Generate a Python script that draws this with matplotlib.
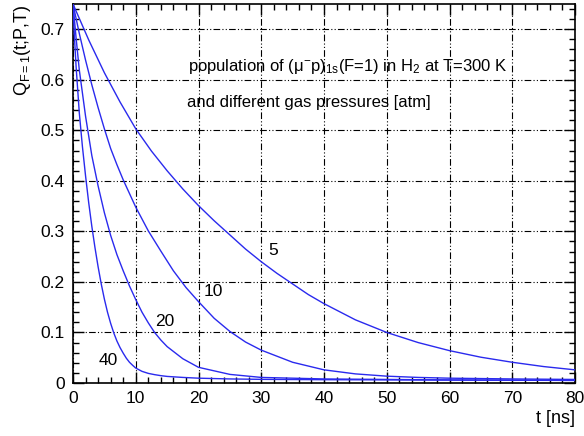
import matplotlib.pyplot as plt
import numpy as np
from matplotlib.ticker import MultipleLocator

plt.rcParams['font.family'] = ['Liberation Sans', 'DejaVu Sans']
plt.rcParams['mathtext.fontset'] = 'custom'
plt.rcParams['mathtext.rm'] = 'Liberation Sans'
plt.rcParams['mathtext.it'] = 'Liberation Sans'
plt.rcParams['mathtext.default'] = 'regular'

# population Q(t) for each gas pressure [atm], t in ns
t_p5 = [0, 2.5, 5, 7.5, 10, 12.5, 15, 17.5, 20, 22.5, 25, 27.5, 30, 32.5, 35,
        37.5, 40, 45, 50, 55, 60, 65, 70, 75, 80]
q_p5 = [0.75, 0.679, 0.614, 0.556, 0.503, 0.459, 0.420, 0.384, 0.351, 0.321,
        0.293, 0.265, 0.240, 0.217, 0.196, 0.175, 0.157, 0.125, 0.100, 0.080,
        0.064, 0.051, 0.041, 0.0325, 0.026]

t_p10 = [0, 1, 2, 3, 4, 5, 6, 7, 8, 10, 12, 14, 16, 18, 20, 22.5, 25, 27.5,
         30, 35, 40, 45, 50, 55, 60, 70, 80]
q_p10 = [0.75, 0.692, 0.639, 0.590, 0.545, 0.503, 0.464, 0.432, 0.402, 0.348,
         0.301, 0.261, 0.222, 0.189, 0.161, 0.128, 0.102, 0.081, 0.065, 0.041,
         0.026, 0.018, 0.0135, 0.011, 0.0095, 0.008, 0.007]

t_p20 = [0, 0.5, 1, 2, 3, 4, 5, 6, 7, 8, 9, 10, 11, 12, 13, 14, 15, 17.5, 20,
         25, 30, 40, 60, 80]
q_p20 = [0.75, 0.682, 0.620, 0.528, 0.450, 0.390, 0.337, 0.292, 0.254, 0.222,
         0.192, 0.165, 0.140, 0.119, 0.100, 0.085, 0.072, 0.048, 0.031, 0.017,
         0.011, 0.008, 0.006, 0.005]

t_p40 = [0, 0.25, 0.5, 1, 1.5, 2, 2.5, 3, 3.5, 4, 4.5, 5, 5.5, 6, 6.5, 7, 7.5,
         8, 8.5, 9, 9.5, 10, 11, 12, 13, 14, 15, 17.5, 20, 25, 30, 40, 60, 80]
q_p40 = [0.75, 0.68, 0.625, 0.535, 0.468, 0.41, 0.357, 0.31, 0.268, 0.23,
         0.196, 0.166, 0.14, 0.118, 0.099, 0.083, 0.07, 0.059, 0.049, 0.041,
         0.035, 0.0295, 0.023, 0.019, 0.0165, 0.0145, 0.013, 0.011, 0.0095,
         0.008, 0.0072, 0.0065, 0.0058, 0.0052]

pressures = ['5', '10', '20', '40']
label_pos = [(31.9, 0.262), (22.3, 0.181), (14.6, 0.121), (5.6, 0.045)]

fig = plt.figure(figsize=(5.84, 4.36), dpi=100)
ax = fig.add_axes([0.125, 0.1216, 0.8596, 0.8692])

for t, q in [(t_p5, q_p5), (t_p10, q_p10), (t_p20, q_p20), (t_p40, q_p40)]:
    ax.plot(t, q, color='#2a2aee', lw=1.0, zorder=3)

for lab, (x, y) in zip(pressures, label_pos):
    ax.text(x, y, lab, fontsize=12.5, ha='center', va='center')

ax.set_xlim(0, 80)
ax.set_ylim(0, 0.75)
ax.xaxis.set_major_locator(MultipleLocator(10))
ax.xaxis.set_minor_locator(MultipleLocator(2))
ax.yaxis.set_minor_locator(MultipleLocator(0.02))
ax.set_yticks(np.arange(0, 0.71, 0.1))
ax.set_yticklabels(['0', '0.1', '0.2', '0.3', '0.4', '0.5', '0.6', '0.7'])

ax.tick_params(which='both', direction='in', top=True, right=True,
               labelsize=12.5, width=1.0)
ax.tick_params(which='major', length=8)
ax.tick_params(axis='x', which='major', pad=6)
ax.tick_params(axis='y', which='major', pad=6)
ax.tick_params(which='minor', length=4)
ax.grid(True, which='major', color='black', lw=0.8,
        linestyle=(0, (6, 2, 1, 2, 1, 2)))
for s in ax.spines.values():
    s.set_linewidth(1.2)

ax.text(18.3, 0.617,
        r'population of ($\mu^{-}$p)$_{1s}$(F=1) in H$_2$ at T=300 K',
        fontsize=12, va='baseline', ha='left')
ax.text(18.2, 0.546, 'and different gas pressures [atm]',
        fontsize=12, va='baseline', ha='left')

fig.text(0.984, 0.039, 't [ns]', fontsize=13, ha='right', va='center')
fig.text(0.038, 0.99, r'Q$_{F=1}$(t;P,T)', fontsize=13, ha='center',
         va='top', rotation=90)

fig.savefig('out.png', dpi=100)
